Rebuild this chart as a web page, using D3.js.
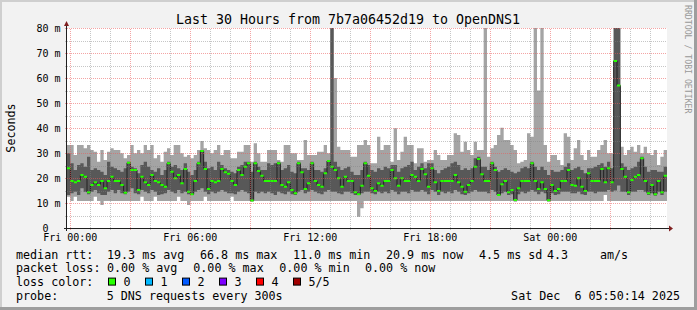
<!DOCTYPE html>
<html>
<head>
<meta charset="utf-8">
<script src="https://cdn.jsdelivr.net/npm/d3@7"></script>
<style>
    body { margin: 0; background: #f2f2f2; }
    svg text { font-family: "DejaVu Sans Mono", monospace; white-space: pre; }
</style>
</head>
<body>
<svg id="chart" width="697" height="310"></svg>
<script>
// smokeping style latency graph, 30 hours, one sample every 10 minutes

// highest ping of each sample (ms)
var hi = [33.2,33.2,29.2,33.2,33.2,31.9,33.2,31.2,30.5,26.5,31.2,27.2,30.5,31.9,31.2,
    31.2,29.9,27.9,29.2,33.2,29.9,31.2,29.9,33.2,31.2,33.2,27.9,29.2,26.5,30.5,
    31.9,29.2,33.2,33.2,29.9,28.5,29.2,27.9,29.2,31.2,34.8,31.9,31.2,29.9,31.2,
    33.2,29.2,31.2,31.2,27.9,27.9,30.5,30.5,33.2,33.2,26.5,33.9,29.9,26.5,26.5,
    31.2,31.2,31.2,27.2,26.5,33.2,33.2,29.9,29.9,27.2,27.2,35.2,29.2,29.2,29.2,
    30.5,30.5,33.2,29.9,95,60,32.5,31.2,31.2,31.2,28.5,28.5,33.2,33.2,35.2,
    33.2,25.9,25.9,36.5,31.2,33.2,33.2,26.5,39.9,27.2,30.5,36.5,33.2,33.2,25.9,
    31.9,31.9,26.5,27.2,27.2,31.2,29.2,27.2,27.2,29.2,29.2,37.9,37.2,30.5,34.5,
    31.2,29.2,34.5,31.2,31.2,95,28.5,31.9,33.2,37.2,40.1,35.2,35.2,33.2,31.2,
    25.9,26.5,27.2,37.9,36.5,95,55,95,33.2,26.5,29.2,29.2,27.2,25.2,37.9,
    36.5,27.2,31.9,35.2,29.2,27.2,31.2,28.5,28.5,31.2,33.2,35.2,29.9,29.9,95,
    95,32.5,29.2,31.2,32.5,30.5,33.2,29.9,32.5,29.9,29.2,31.2,25.2,28.5,31.2];

// 4th ping
var q3 = [29.9,25.9,23.2,25.2,25.9,24.5,28.5,23.2,23.9,23.2,22.5,21.2,26.5,24.5,23.9,
    23.2,22.5,23.9,26.5,24.5,23.9,21.9,25.2,26.5,24.5,23.2,22.5,23.9,21.2,23.2,
    26.5,24.5,25.2,23.9,23.2,25.9,22.5,21.2,23.2,26.5,31.2,26.5,23.9,24.5,23.2,
    26.5,25.2,23.9,23.2,22.5,21.9,24.5,25.2,26.5,26.5,22.5,26.5,24.5,23.2,23.2,
    25.9,25.2,25.9,26.5,23.2,23.9,25.2,22.5,21.9,26.5,23.9,23.9,23.2,26.5,23.2,
    23.2,22.5,23.9,27.2,95,26.5,24.5,23.2,23.9,24.5,22.5,21.2,21.2,23.2,26.5,
    25.2,23.2,22.5,23.9,23.2,24.5,23.9,25.2,25.2,22.5,23.9,24.5,25.2,26.5,23.2,
    24.5,25.9,23.9,25.9,25.9,23.2,21.9,23.2,23.9,24.5,25.9,26.5,25.2,23.2,23.9,
    23.2,23.9,27.9,28.5,24.5,24.5,23.2,26.5,24.5,22.5,23.2,23.9,23.2,22.5,21.9,
    22.5,23.9,24.5,23.9,26.5,24.5,23.2,24.5,23.2,21.2,23.2,22.5,22.5,23.2,24.5,
    25.9,23.2,23.9,24.5,23.2,21.9,23.9,23.9,24.5,25.2,25.9,24.5,26.5,23.9,95,
    95,25.9,24.5,23.2,23.9,24.5,26.5,28.5,24.5,22.5,23.2,23.2,22.5,22.5,24.5];

// median rtt
var med = [23.9,18.8,18.3,18.8,21.2,20.5,14.3,17.2,18.3,17.2,18.8,15.9,18.8,20.5,18.8,
    18.8,17.2,14.1,26.1,23.2,23.2,15.2,20.5,18.3,17.2,21.2,18.8,18.3,17.2,16.5,
    25.9,22.5,19.9,21.2,17.9,23.6,14.5,13.5,18.8,25.9,30.8,23.6,15.6,18.8,18.3,
    18.8,23.6,22.3,21.7,18.8,17.2,23.2,21.2,24.5,25.9,11.0,25.9,22.8,20.9,18.8,
    18.8,18.8,18.8,25.9,17.2,16.5,18.3,15.2,13.9,25.9,22.3,15.6,17.9,25.9,18.8,
    17.2,16.5,21.9,26.8,24.5,23.2,19.9,16.5,20.5,18.8,18.8,14.3,13.5,16.9,25.9,
    20.9,15.9,14.8,17.9,16.9,18.8,18.8,23.2,19.9,16.9,19.9,18.8,18.8,21.2,20.5,
    18.8,23.6,21.5,16.5,23.9,18.3,14.8,18.8,18.8,18.8,18.8,21.2,18.3,16.5,14.5,
    17.2,18.8,24.5,27.6,21.5,18.8,18.8,25.9,23.2,13.2,17.5,18.8,14.3,15.2,11.2,
    15.9,18.8,18.8,18.8,25.9,18.8,15.6,18.3,15.6,11.1,17.2,14.8,15.6,18.8,18.8,
    23.2,17.2,16.9,19.9,16.5,14.8,21.9,18.8,18.8,18.8,23.6,18.3,23.9,18.3,66.8,
    57.0,23.6,20.5,14.3,19.2,20.5,21.2,27.9,18.8,13.9,17.2,13.5,18.8,14.3,20.9];

// 2nd ping
var q1 = [13.2,13.9,14.5,13.2,15.9,14.5,13.5,14.5,15.2,13.9,13.2,13.2,14.5,15.2,13.9,
    15.2,13.9,13.5,14.5,15.9,13.9,13.5,15.2,14.5,13.9,15.2,14.5,13.2,13.5,13.9,
    15.2,14.5,13.9,15.2,13.9,14.5,13.5,13.2,14.5,15.2,15.9,14.5,13.5,14.5,13.9,
    14.5,15.2,14.5,13.9,13.9,13.5,14.5,15.2,14.5,13.9,10.8,14.5,13.9,14.5,13.9,
    14.5,13.9,13.2,14.5,13.9,13.5,14.5,13.5,13.2,14.5,15.2,13.9,14.5,15.2,14.5,
    13.9,13.5,14.5,15.2,14.5,14.5,13.9,13.5,14.5,14.5,13.9,13.2,13.2,13.9,14.5,
    14.5,13.9,13.5,14.5,13.9,14.5,13.9,15.2,14.5,13.5,14.5,14.5,13.9,15.2,14.5,
    14.5,15.2,14.5,13.5,15.2,14.5,13.2,14.5,13.9,14.5,13.9,15.2,14.5,13.5,13.2,
    13.9,14.5,15.2,14.5,14.5,14.5,13.9,15.2,14.5,12.9,13.9,14.5,13.2,13.5,11.0,
    13.5,14.5,13.9,14.5,15.2,14.5,13.5,14.5,13.9,11.0,13.9,13.2,13.5,14.5,14.5,
    14.5,13.9,13.9,14.5,13.5,13.2,14.5,14.5,13.9,14.5,14.5,14.5,15.2,14.5,15.0,
    17.0,14.5,14.5,13.2,14.5,14.5,15.2,15.2,14.5,13.2,13.9,12.9,14.5,13.2,14.5];

// lowest ping
var lo = [12.5,10.8,12.5,10.8,10.8,10.8,10.8,10.8,12.5,10.8,9.2,10.8,10.8,10.8,10.8,
    10.8,10.8,10.8,10.8,10.8,10.8,10.8,12.5,10.8,10.8,10.8,12.5,10.8,10.8,10.8,
    10.8,10.8,10.8,12.5,10.8,10.8,9.2,10.8,10.8,10.8,10.8,12.5,10.8,10.8,10.8,
    10.8,10.8,10.8,10.8,12.5,10.8,10.8,10.8,10.8,10.8,10.5,10.8,10.8,10.8,10.8,
    10.8,10.8,10.8,10.8,10.8,10.8,10.8,10.8,10.8,10.8,10.8,10.8,10.8,10.8,10.8,
    10.8,10.8,10.8,10.8,10.8,10.8,10.8,10.8,10.8,10.8,10.8,10.8,4.5,7.9,10.8,
    10.8,10.8,10.8,10.8,10.8,10.8,10.8,10.8,10.8,10.8,10.8,10.8,10.8,10.8,10.8,
    10.8,10.8,10.8,10.8,10.8,10.8,10.8,10.8,10.8,10.8,10.8,10.8,10.8,10.8,10.8,
    10.8,10.8,10.8,10.8,10.8,10.8,10.8,10.8,10.8,10.8,10.8,10.8,10.8,10.8,10.5,
    10.8,10.8,10.8,10.8,10.8,10.8,10.8,10.8,10.8,10.5,10.8,10.8,10.8,10.8,10.8,
    10.8,10.8,10.8,10.8,10.8,10.8,10.8,10.8,10.8,10.8,10.8,13.2,10.8,10.8,10.8,
    10.8,10.8,10.8,10.8,10.8,10.8,10.8,10.8,10.8,10.8,10.8,10.8,10.8,10.8,10.8];

var yTicks = [0, 10, 20, 30, 40, 50, 60, 70, 80];
var yMinor = [5, 15, 25, 35, 45, 55, 65, 75];

var title = "Last 30 Hours from 7b7a06452d19 to OpenDNS1";
var rttStats = ["19.3 ms avg", "66.8 ms max", "11.0 ms min", "20.9 ms now", "4.5 ms sd", "4.3", "am/s"];
var lossStats = ["0.00 % avg", "0.00 % max", "0.00 % min", "0.00 % now"];
var lossLevels = ["0", "1", "2", "3", "4", "5/5"];
var lossColors = ["#26ff00", "#00b8ff", "#0059ff", "#7e00ff", "#ff0000", "#a10000"];
var probeText = "5 DNS requests every 300s";
var stampText = "Sat Dec  6 05:50:14 2025";

var endTime = new Date(2025, 11, 6, 5, 50, 14);
var startTime = d3.timeHour.offset(endTime, -30);
var stepMin = 10;

var svg = d3.select("#chart");

var xScale = d3.scaleTime()
    .domain([startTime, endTime])
    .range([67, 667]);

var yScale = d3.scaleLinear()
    .domain([0, 80])
    .range([228, 28]);

var samples = med.map(function (m, i) {
    return {
        t: d3.timeMinute.offset(startTime, i * stepMin),
        hi: hi[i], q3: q3[i], med: m, q1: q1[i], lo: lo[i]
    };
});
// close the last step at the end time
var lastOne = samples[samples.length - 1];
samples.push({t: endTime, hi: lastOne.hi, q3: lastOne.q3, med: lastOne.med, q1: lastOne.q1, lo: lastOne.lo});

//background and bevel
svg.append("rect").attr("width", 697).attr("height", 310).attr("fill", "#f2f2f2");
svg.append("rect").attr("x", 0).attr("y", 0).attr("width", 697).attr("height", 2).attr("fill", "#cfcfcf");
svg.append("rect").attr("x", 0).attr("y", 0).attr("width", 2).attr("height", 310).attr("fill", "#cfcfcf");
svg.append("rect").attr("x", 0).attr("y", 307).attr("width", 697).attr("height", 3).attr("fill", "#9e9e9e");
svg.append("rect").attr("x", 694).attr("y", 0).attr("width", 3).attr("height", 310).attr("fill", "#9e9e9e");

//canvas
svg.append("rect")
    .attr("x", xScale.range()[0]).attr("y", yScale.range()[1])
    .attr("width", xScale.range()[1] - xScale.range()[0])
    .attr("height", yScale.range()[0] - yScale.range()[1])
    .attr("fill", "#ffffff");

svg.append("clipPath").attr("id", "plotclip")
    .append("rect")
    .attr("x", xScale.range()[0]).attr("y", yScale.range()[1])
    .attr("width", xScale.range()[1] - xScale.range()[0])
    .attr("height", yScale.range()[0] - yScale.range()[1]);

var plot = svg.append("g").attr("clip-path", "url(#plotclip)");

//smoke
var outerArea = d3.area()
    .curve(d3.curveStepAfter)
    .x(function (d) { return xScale(d.t); })
    .y0(function (d) { return yScale(d.lo); })
    .y1(function (d) { return yScale(d.hi); });

var innerArea = d3.area()
    .curve(d3.curveStepAfter)
    .x(function (d) { return xScale(d.t); })
    .y0(function (d) { return yScale(d.q1); })
    .y1(function (d) { return yScale(d.q3); });

var medLine = d3.line()
    .curve(d3.curveStepAfter)
    .x(function (d) { return xScale(d.t); })
    .y(function (d) { return yScale(d.med); });

plot.append("path").attr("d", outerArea(samples)).attr("fill", "#a4a4a4");
plot.append("path").attr("d", innerArea(samples)).attr("fill", "#585858");
plot.append("path").attr("d", medLine(samples))
    .attr("fill", "none")
    .attr("stroke", "#202020")
    .attr("stroke-width", 1);

//median marks, coloured by loss (all 0 here)
plot.selectAll(".medmark")
    .data(samples.slice(0, samples.length - 1))
    .enter().append("rect")
    .attr("class", "medmark")
    .attr("x", function (d) { return xScale(d.t); })
    .attr("y", function (d) { return yScale(d.med) - 1; })
    .attr("width", function (d) { return xScale(d3.timeMinute.offset(d.t, stepMin)) - xScale(d.t); })
    .attr("height", 2)
    .attr("fill", lossColors[0]);

//grid
var x0 = xScale.range()[0], x1 = xScale.range()[1];
var yb = yScale.range()[0], yt = yScale.range()[1];
var hours = d3.timeHour.every(1).range(startTime, endTime);
var majorHours = hours.filter(function (h) { return h.getHours() % 3 === 0; });
var minorHours = hours.filter(function (h) { return h.getHours() % 3 !== 0; });
var labelHours = hours.filter(function (h) { return h.getHours() % 6 === 0; });

var grid = svg.append("g").attr("fill", "none").attr("stroke-dasharray", "1,1");

grid.selectAll(".vmin").data(minorHours).enter().append("line")
    .attr("x1", function (d) { return Math.round(xScale(d)) + 0.5; })
    .attr("x2", function (d) { return Math.round(xScale(d)) + 0.5; })
    .attr("y1", yb + 2).attr("y2", yt)
    .attr("stroke", "rgba(128,128,128,0.45)");

grid.selectAll(".hmin").data(yMinor).enter().append("line")
    .attr("x1", x0 - 2).attr("x2", x1)
    .attr("y1", function (d) { return Math.round(yScale(d)) + 0.5; })
    .attr("y2", function (d) { return Math.round(yScale(d)) + 0.5; })
    .attr("stroke", "rgba(128,128,128,0.45)");

grid.selectAll(".vmaj").data(majorHours).enter().append("line")
    .attr("x1", function (d) { return Math.round(xScale(d)) + 0.5; })
    .attr("x2", function (d) { return Math.round(xScale(d)) + 0.5; })
    .attr("y1", yb + 2).attr("y2", yt)
    .attr("stroke", "rgba(235,90,90,0.55)");

grid.selectAll(".hmaj").data(yTicks.slice(1)).enter().append("line")
    .attr("x1", x0 - 2).attr("x2", x1)
    .attr("y1", function (d) { return Math.round(yScale(d)) + 0.5; })
    .attr("y2", function (d) { return Math.round(yScale(d)) + 0.5; })
    .attr("stroke", "rgba(235,90,90,0.55)");

//axes with arrows
svg.append("line")
    .attr("x1", x0 - 3).attr("x2", x1 + 2)
    .attr("y1", yb + 0.5).attr("y2", yb + 0.5)
    .attr("stroke", "#202020");
svg.append("line")
    .attr("x1", x0 - 0.5).attr("x2", x0 - 0.5)
    .attr("y1", yb + 3).attr("y2", yt - 2)
    .attr("stroke", "#202020");
svg.append("path")
    .attr("d", "M" + (x1 + 2) + "," + (yb - 2.5) + "L" + (x1 + 6) + "," + (yb + 0.5) + "L" + (x1 + 2) + "," + (yb + 3.5) + "Z")
    .attr("fill", "#802020");
svg.append("path")
    .attr("d", "M" + (x0 - 3) + "," + (yt - 2) + "L" + (x0 - 0.5) + "," + (yt - 7) + "L" + (x0 + 2) + "," + (yt - 2) + "Z")
    .attr("fill", "#802020");

//tick labels
svg.selectAll(".ylab").data(yTicks).enter().append("text")
    .attr("x", 60.5)
    .attr("y", function (d) { return yScale(d) + 3.5; })
    .attr("text-anchor", "end")
    .attr("font-size", "10px")
    .attr("fill", "#000")
    .text(function (d) { return d === 0 ? "0  " : d + " m"; });

var fmt = d3.timeFormat("%a %H:%M");
svg.selectAll(".xlab").data(labelHours).enter().append("text")
    .attr("x", function (d) { return xScale(d); })
    .attr("y", 241)
    .attr("text-anchor", "middle")
    .attr("font-size", "10px")
    .attr("fill", "#000")
    .text(function (d) { return fmt(d); });

//title, y label, watermark
svg.append("text")
    .attr("x", 348).attr("y", 24)
    .attr("text-anchor", "middle")
    .attr("font-size", "13.3px")
    .text(title);

svg.append("text")
    .attr("transform", "translate(15,128) rotate(-90)")
    .attr("text-anchor", "middle")
    .attr("font-size", "11.7px")
    .text("Seconds");

svg.append("text")
    .attr("transform", "translate(684.5,5) rotate(90)")
    .attr("font-size", "8.2px")
    .attr("fill", "#999999")
    .text("RRDTOOL / TOBI OETIKER");

//legend
var legend = svg.append("g").attr("font-size", "11.7px").attr("fill", "#000");
var rowY = [258.5, 272.3, 286.1, 299.9];

legend.append("text").attr("x", 16).attr("y", rowY[0]).text("median rtt:");
var rttX = [107, 200, 293, 386, 479, 547, 600];
rttStats.forEach(function (s, i) {
    legend.append("text").attr("x", rttX[i]).attr("y", rowY[0]).text(s);
});

legend.append("text").attr("x", 16).attr("y", rowY[1]).text("packet loss:");
var lossX = [107, 193.3, 279.3, 365];
lossStats.forEach(function (s, i) {
    legend.append("text").attr("x", lossX[i]).attr("y", rowY[1]).text(s);
});

legend.append("text").attr("x", 16).attr("y", rowY[2]).text("loss color:");
lossLevels.forEach(function (s, i) {
    var bx = 108.5 + i * 37;
    legend.append("rect")
        .attr("x", bx).attr("y", rowY[2] - 8)
        .attr("width", 7).attr("height", 7)
        .attr("fill", lossColors[i])
        .attr("stroke", "#000").attr("stroke-width", 1);
    legend.append("text").attr("x", bx + 15).attr("y", rowY[2]).text(s);
});

legend.append("text").attr("x", 16).attr("y", rowY[3]).text("probe:");
legend.append("text").attr("x", 106.7).attr("y", rowY[3]).text(probeText);
legend.append("text").attr("x", 680).attr("y", rowY[3]).attr("text-anchor", "end").text(stampText);
</script>
</body>
</html>
